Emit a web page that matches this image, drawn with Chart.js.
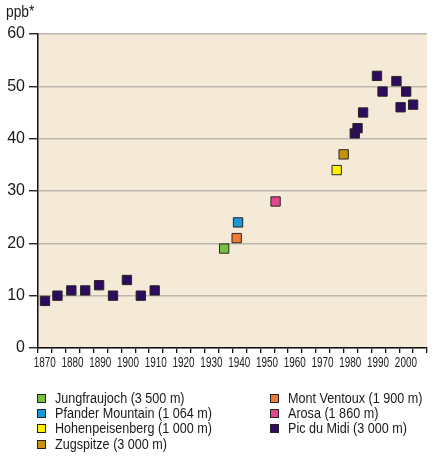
<!DOCTYPE html>
<html>
<head>
<meta charset="utf-8">
<script src="https://cdn.jsdelivr.net/npm/chart.js@4/dist/chart.umd.min.js"></script>
<style>
  html, body { margin: 0; padding: 0; background: #ffffff; }
  #wrap { position: relative; width: 439px; height: 463px; }
  #unit { position: absolute; left: 6px; top: 3px; font: 16px "Liberation Sans", Arial, sans-serif; color: #1a1a1a; transform: scaleX(0.86); transform-origin: left center; }
  .leg { position: absolute; font: 14px "Liberation Sans", Arial, sans-serif; color: #1a1a1a; white-space: nowrap; line-height: 16px; }
  .leg span.tx { display: inline-block; transform: scaleX(0.9); transform-origin: left center; }
  .leg span.sw { position: absolute; left: -18px; top: 4px; width: 7px; height: 7px; border: 1px solid #222; }
</style>
</head>
<body>
<div id="wrap">
  <canvas id="c" width="439" height="463"></canvas>
  <div id="unit">ppb*</div>
</div>
<script>
// ---- data ----
const yTickValues = [0, 10, 20, 30, 40, 50, 60];
const xTickLabels = [1870, 1880, 1890, 1900, 1910, 1920, 1930, 1940, 1950, 1960, 1970, 1980, 1990, 2000];

const stationNames = [
  'Jungfraujoch (3 500 m)',
  'Pfander Mountain (1 064 m)',
  'Hohenpeisenberg (1 000 m)',
  'Zugspitze (3 000 m)',
  'Mont Ventoux (1 900 m)',
  'Arosa (1 860 m)',
  'Pic du Midi (3 000 m)'
];
const stationColors = ['#78bf3f', '#1b97d8', '#fff200', '#c8920f', '#ef7b35', '#e0478f', '#2e0b5e'];

const jungfraujochYears = [1937];
const jungfraujochValues = [19];
const pfanderYears = [1942];
const pfanderValues = [24];
const hohenpeisenbergYears = [1977.5];
const hohenpeisenbergValues = [34];
const zugspitzeYears = [1980];
const zugspitzeValues = [37];
const montVentouxYears = [1941.5];
const montVentouxValues = [21];
const arosaYears = [1955.5];
const arosaValues = [28];
const picDuMidiYears = [1872.5, 1877, 1882, 1887, 1892, 1897, 1902, 1907, 1912, 1984, 1985, 1987, 1992, 1994, 1999, 2000.5, 2002.5, 2005];
const picDuMidiValues = [9, 10, 11, 11, 12, 10, 13, 10, 11, 41, 42, 45, 52, 49, 51, 46, 49, 46.5];

const seriesYears = [jungfraujochYears, pfanderYears, hohenpeisenbergYears, zugspitzeYears, montVentouxYears, arosaYears, picDuMidiYears];
const seriesValues = [jungfraujochValues, pfanderValues, hohenpeisenbergValues, zugspitzeValues, montVentouxValues, arosaValues, picDuMidiValues];

// ---- chart ----
const FONT = '"Liberation Sans", Arial, sans-serif';

const datasets = stationNames.map((name, i) => ({
  label: name,
  data: seriesYears[i].map((yr, j) => ({ x: yr, y: seriesValues[i][j] })),
  backgroundColor: stationColors[i],
  borderColor: '#262626',
  borderWidth: 1,
  pointStyle: 'rect',
  pointRadius: 6.6,
  pointHoverRadius: 6.6
}));

const plotBg = {
  id: 'plotBg',
  beforeDraw(chart) {
    const a = chart.chartArea, ctx = chart.ctx;
    ctx.save();
    ctx.fillStyle = '#f5ead8';
    ctx.fillRect(a.left, a.top, a.right - a.left, a.bottom - a.top);
    ctx.restore();
  }
};

// x tick labels drawn in a condensed form (horizontally narrowed) at the scale's own positions
const condensedXLabels = {
  id: 'condensedXLabels',
  afterDraw(chart) {
    const s = chart.scales.x, ctx = chart.ctx;
    ctx.save();
    ctx.font = '15px ' + FONT;
    ctx.fillStyle = '#1a1a1a';
    ctx.textAlign = 'center';
    ctx.textBaseline = 'alphabetic';
    xTickLabels.forEach(v => {
      const px = s.getPixelForValue(v + 2.4);
      ctx.save();
      ctx.translate(px, s.top + 18.5);
      ctx.scale(0.66, 1);
      ctx.fillText(String(v), 0, 0);
      ctx.restore();
    });
    ctx.restore();
  }
};

const chart = new Chart(document.getElementById('c'), {
  type: 'scatter',
  data: { datasets },
  plugins: [plotBg, condensedXLabels],
  options: {
    responsive: false,
    animation: false,
    layout: { padding: { top: 34, right: 12, left: 0, bottom: 0 } },
    plugins: { legend: { display: false }, tooltip: { enabled: false } },
    scales: {
      x: {
        type: 'linear',
        min: 1870,
        max: 2010,
        afterFit(s) { s.height = 115; },
        afterBuildTicks(s) {
          const t = [];
          for (let v = 1870; v <= 2010; v += 5) t.push({ value: v });
          s.ticks = t;
        },
        ticks: {
          autoSkip: false,
          maxRotation: 0,
          minRotation: 0,
          callback: () => ''
        },
        grid: { drawOnChartArea: false, drawTicks: true, tickLength: 5, color: '#111', lineWidth: 1.3 },
        border: { display: true, color: '#111', width: 1.5 }
      },
      y: {
        min: 0,
        max: 60,
        afterFit(s) { s.width = 38; },
        afterBuildTicks(s) { s.ticks = yTickValues.map(v => ({ value: v })); },
        ticks: {
          padding: 4,
          color: '#1a1a1a',
          font: { family: FONT, size: 16 }
        },
        grid: { color: '#bdb7ae', lineWidth: 1.5, tickLength: 9, tickColor: '#111', tickWidth: 1.3 },
        border: { display: true, color: '#111', width: 1.5 }
      }
    }
  }
});

// ---- HTML legend built from the chart's datasets ----
const legendRows = [398, 413, 428, 444];
const wrap = document.getElementById('wrap');
chart.data.datasets.forEach((ds, i) => {
  const col = i < 4 ? 0 : 1;
  const row = i < 4 ? i : i - 4;
  const d = document.createElement('div');
  d.className = 'leg';
  d.style.left = (col === 0 ? 55 : 288) + 'px';
  d.style.top = (legendRows[row] - 8) + 'px';
  const sw = document.createElement('span');
  sw.className = 'sw';
  sw.style.background = ds.backgroundColor;
  d.appendChild(sw);
  const tx = document.createElement('span');
  tx.className = 'tx';
  tx.textContent = ds.label;
  d.appendChild(tx);
  wrap.appendChild(d);
});
</script>
</body>
</html>
